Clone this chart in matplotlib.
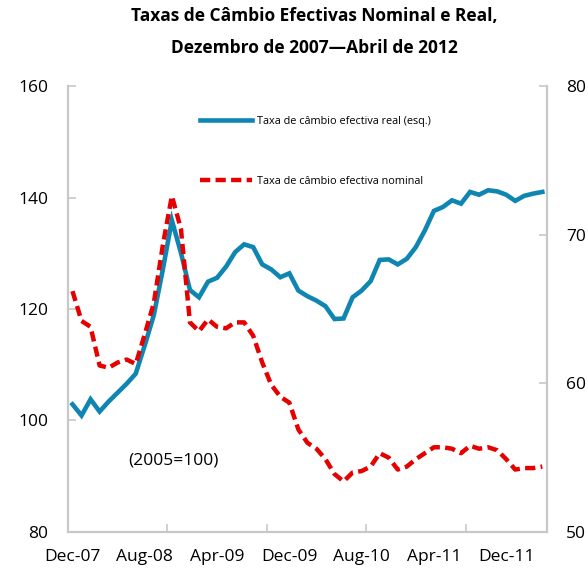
import numpy as np
import matplotlib.pyplot as plt

# Data (monthly, Dec-07 .. Apr-12)
months = ["Dec-07", "Aug-08", "Apr-09", "Dec-09", "Aug-10", "Apr-11", "Dec-11"]
real = [102.9, 100.9, 103.8, 101.6, 103.4, 105.0, 106.6, 108.4, 113.5, 118.9,
        127.1, 135.9, 130.1, 123.4, 122.1, 124.9, 125.6, 127.6, 130.2, 131.6,
        131.1, 128.0, 127.1, 125.7, 126.4, 123.3, 122.3, 121.5, 120.5, 118.2,
        118.3, 122.1, 123.3, 125.0, 128.8, 128.9, 128.0, 129.0, 131.1, 134.1,
        137.6, 138.3, 139.5, 138.9, 141.0, 140.5, 141.3, 141.1, 140.5, 139.4,
        140.3, 140.7, 141.0]
nominal = [66.2, 64.2, 63.8, 61.2, 61.05, 61.4, 61.6, 61.3, 63.3, 65.4,
           69.3, 72.6, 70.4, 64.1, 63.5, 64.3, 63.8, 63.7, 64.1, 64.1,
           63.2, 61.4, 59.9, 59.1, 58.7, 56.9, 56.0, 55.6, 54.9, 53.9,
           53.4, 54.0, 54.1, 54.4, 55.3, 55.0, 54.2, 54.4, 54.9, 55.3,
           55.7, 55.7, 55.6, 55.3, 55.8, 55.6, 55.7, 55.5, 54.9, 54.2,
           54.3, 54.3, 54.4]

x = np.arange(len(real))
blue = "#0F86B2"
red = "#E60000"
grey = "#C8C8C8"
font = ["Open Sans", "DejaVu Sans"]
plt.rcParams['font.family'] = font

fig = plt.figure(figsize=(5.88, 5.75), dpi=100)
ax = fig.add_axes([0.1156, 0.0748, 0.8144, 0.7756])
ax2 = ax.twinx()

l1, = ax.plot(x, real, color=blue, lw=3.3, solid_joinstyle='miter',
              label="Taxa de câmbio efectiva real (esq.)")
l2, = ax2.plot(x, nominal, color=red, lw=3.2, linestyle=(0, (2.3, 1.2)),
               label="Taxa de câmbio efectiva nominal")

ax.set_xlim(-0.5, len(real) - 0.5)
ax.set_ylim(80, 160)
ax2.set_ylim(50, 80)
ax.set_yticks([80, 100, 120, 140, 160])
ax2.set_yticks([50, 60, 70, 80])

ax.set_xticks(np.arange(0, len(real), 8))
ax.set_xticklabels(months)
ax.set_xticks([10.5, 21.5, 32.5, 43.5], minor=True)
ax.tick_params(axis='x', which='major', length=0, pad=12, labelsize=12.5)
ax.tick_params(axis='x', which='minor', direction='in', length=6,
               color=grey, width=1.2)
ax.tick_params(axis='y', direction='in', length=6, color=grey, width=1.2,
               labelsize=12.5, pad=14)
ax2.tick_params(axis='y', direction='in', length=6, color=grey, width=1.2,
                labelsize=12.5, pad=14)

for a in (ax, ax2):
    for s in a.spines.values():
        s.set_color(grey)
        s.set_linewidth(1.5)
    a.spines['top'].set_visible(False)

ax.text(0.22, 0.16, "(2005=100)", transform=ax.transAxes, fontsize=12.5,
        ha='center', va='center')

ax.legend([l1, l2], [l1.get_label(), l2.get_label()], loc='upper left',
          bbox_to_anchor=(0.255, 0.955), frameon=False, fontsize=7.8,
          handlelength=4.8, handletextpad=0.5, labelspacing=4.5)

fig.text(0.535, 0.972, "Taxas de Câmbio Efectivas Nominal e Real,",
         ha='center', va='center', fontsize=12.5, fontweight='bold')
fig.text(0.535, 0.917, "Dezembro de 2007\u2014Abril de 2012",
         ha='center', va='center', fontsize=12.5, fontweight='bold')

fig.savefig("out.png", dpi=100)
